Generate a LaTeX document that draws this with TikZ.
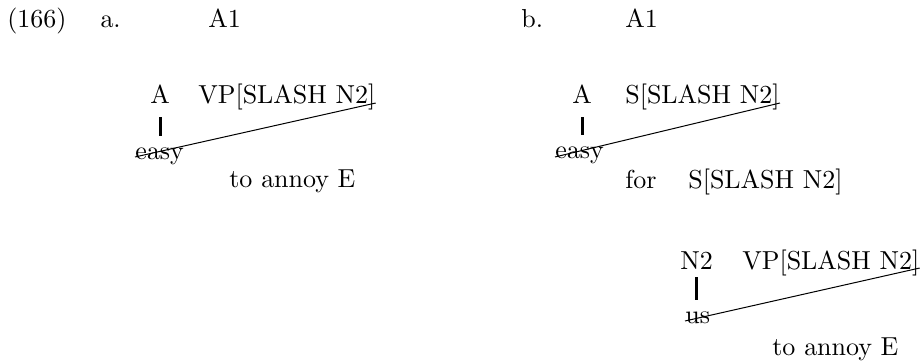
\documentclass[tikz,border=0pt]{standalone}
\usepackage{tikz}
\font\treefont=cmr10 at 13pt

\begin{document}
\begin{tikzpicture}[x=0.5pt,y=-0.5pt,
  every node/.style={font=\treefont},
  cat/.style={anchor=base west,inner sep=0pt},
  stem/.style={line width=1.6pt,shorten <=6.5pt,shorten >=6.4pt},
  slashline/.style={line width=0.5pt}]
  \useasboundingbox (0,0) rectangle (923,362);
  % (166a)
  \node[cat] (num) at (7,28) {(166)};
  \node[cat] (subA) at (100,28) {a.};
  \node[cat] (rootA) at (208,28) {A1};
  \node[cat] (adjA) at (150,104) {A};
  \node[cat] (vpA) at (198,104) {VP[SLASH N2]};
  \node[cat] (easyA) at (135,160) {easy};
  \node[cat] (infA) at (229,188) {to annoy E};
  \draw[stem] (adjA.south) -- (adjA.south |- easyA.north);
  \draw[slashline] ([yshift=1.5pt]easyA.base west) -- ([yshift=0.5pt]vpA.base east);
  % (166b)
  \node[cat] (subB) at (521,28) {b.};
  \node[cat] (rootB) at (625,28) {A1};
  \node[cat] (adjB) at (572,104) {A};
  \node[cat] (sB) at (625,104) {S[SLASH N2]};
  \node[cat] (easyB) at (555,159) {easy};
  \node[cat] (forB) at (625,189) {for};
  \node[cat] (sinB) at (688,189) {S[SLASH N2]};
  \node[cat] (npB) at (680,270) {N2};
  \node[cat] (vpB) at (742,270) {VP[SLASH N2]};
  \node[cat] (usB) at (685,324) {us};
  \node[cat] (infB) at (772,356) {to annoy E};
  \draw[stem] (adjB.south) -- (adjB.south |- easyB.north);
  \draw[slashline] ([yshift=1pt]easyB.base west) -- ([yshift=0.5pt]sB.base east);
  \draw[stem,shorten <=3.5pt] (npB.south) -- (npB.south |- usB.north);
  \draw[slashline] ([yshift=1.5pt]usB.base west) -- ([yshift=1pt]vpB.base east);
\end{tikzpicture}
\end{document}
